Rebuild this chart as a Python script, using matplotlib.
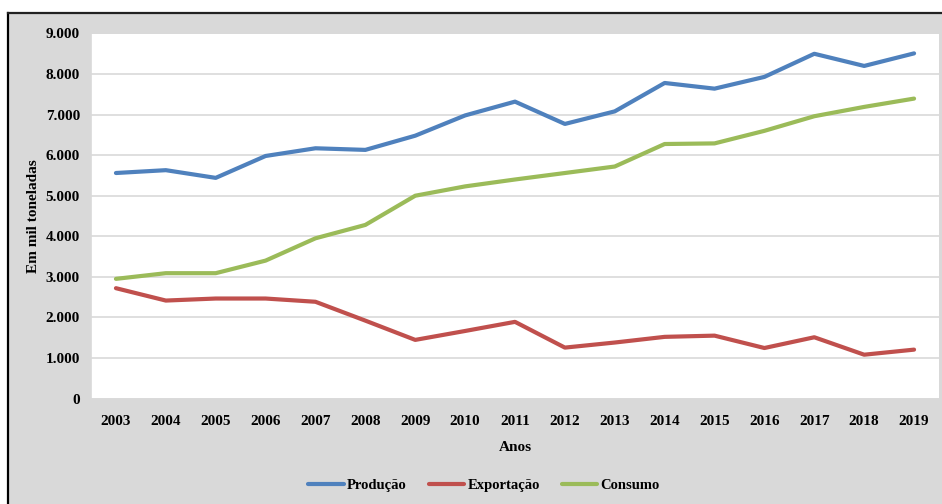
import matplotlib
matplotlib.use("Agg")
from matplotlib import pyplot as plt
from matplotlib.lines import Line2D
from matplotlib.patches import Rectangle

anos = ['2003', '2004', '2005', '2006', '2007', '2008', '2009', '2010', '2011',
        '2012', '2013', '2014', '2015', '2016', '2017', '2018', '2019']
producao = [5560, 5630, 5440, 5980, 6170, 6130, 6480, 6980, 7320,
            6770, 7080, 7780, 7640, 7930, 8500, 8200, 8510]
exportacao = [2720, 2415, 2465, 2465, 2385, 1920, 1445, 1665, 1890,
              1255, 1380, 1520, 1550, 1245, 1510, 1080, 1205]
consumo = [2950, 3090, 3090, 3400, 3950, 4280, 5000, 5230, 5400,
           5560, 5720, 6275, 6290, 6600, 6960, 7190, 7395]
y_ticks = [0, 1000, 2000, 3000, 4000, 5000, 6000, 7000, 8000, 9000]
y_labels = ['0', '1.000', '2.000', '3.000', '4.000', '5.000', '6.000', '7.000', '8.000', '9.000']

plt.rcParams['font.family'] = ['Liberation Serif', 'DejaVu Serif']
plt.rcParams['font.weight'] = 'bold'
fs = 11

W, H = 942, 504
fig = plt.figure(figsize=(W / 100, H / 100), dpi=100)
fig.patch.set_facecolor('white')

# gray chart area with dark border on the left and top
fig.add_artist(Rectangle((8 / W, 0), 1 - 8 / W, 1 - 12.5 / H, transform=fig.transFigure,
                         facecolor='#d9d9d9', edgecolor='none', zorder=0))
fig.add_artist(Line2D([8 / W, 8 / W], [0, 1 - 12.5 / H], transform=fig.transFigure,
                      color='black', lw=1.6, zorder=1))
fig.add_artist(Line2D([8 / W, 1], [1 - 12.5 / H, 1 - 12.5 / H], transform=fig.transFigure,
                      color='#222222', lw=1.6, zorder=1))

ax = fig.add_axes([91 / W, 1 - 398.5 / H, 848 / W, 365 / H])
ax.set_facecolor('white')

x = list(range(len(anos)))
ax.plot(x, producao, color='#4F81BD', lw=3, label='Produção', solid_capstyle='round')
ax.plot(x, exportacao, color='#C0504D', lw=3, label='Exportação', solid_capstyle='round')
ax.plot(x, consumo, color='#9BBB59', lw=3, label='Consumo', solid_capstyle='round')

ax.set_xlim(-0.5, len(anos) - 0.5)
ax.set_ylim(0, 9000)
ax.set_xticks(x)
ax.set_xticklabels(anos, fontsize=fs, fontweight='bold')
ax.set_yticks(y_ticks)
ax.set_yticklabels(y_labels, fontsize=fs, fontweight='bold')
ax.tick_params(axis='x', length=0, pad=12)
ax.tick_params(axis='y', length=0, pad=8)
ax.grid(axis='y', color='#d9d9d9', lw=1.2)
ax.set_axisbelow(True)
for side in ['top', 'right']:
    ax.spines[side].set_visible(False)
for side in ['left', 'bottom']:
    ax.spines[side].set_color('#d9d9d9')
    ax.spines[side].set_linewidth(1.2)

ax.set_xlabel('Anos', fontsize=fs, fontweight='bold', labelpad=9)
ax.set_ylabel('Em mil toneladas', fontsize=fs, fontweight='bold', labelpad=4)

fig.legend(loc='center', bbox_to_anchor=(484 / W, 1 - 485 / H), ncol=3, frameon=False,
           handlelength=2.45, handletextpad=0.2, columnspacing=1.5,
           prop={'weight': 'bold', 'size': 10.5})

fig.savefig('out.png', dpi=100)
